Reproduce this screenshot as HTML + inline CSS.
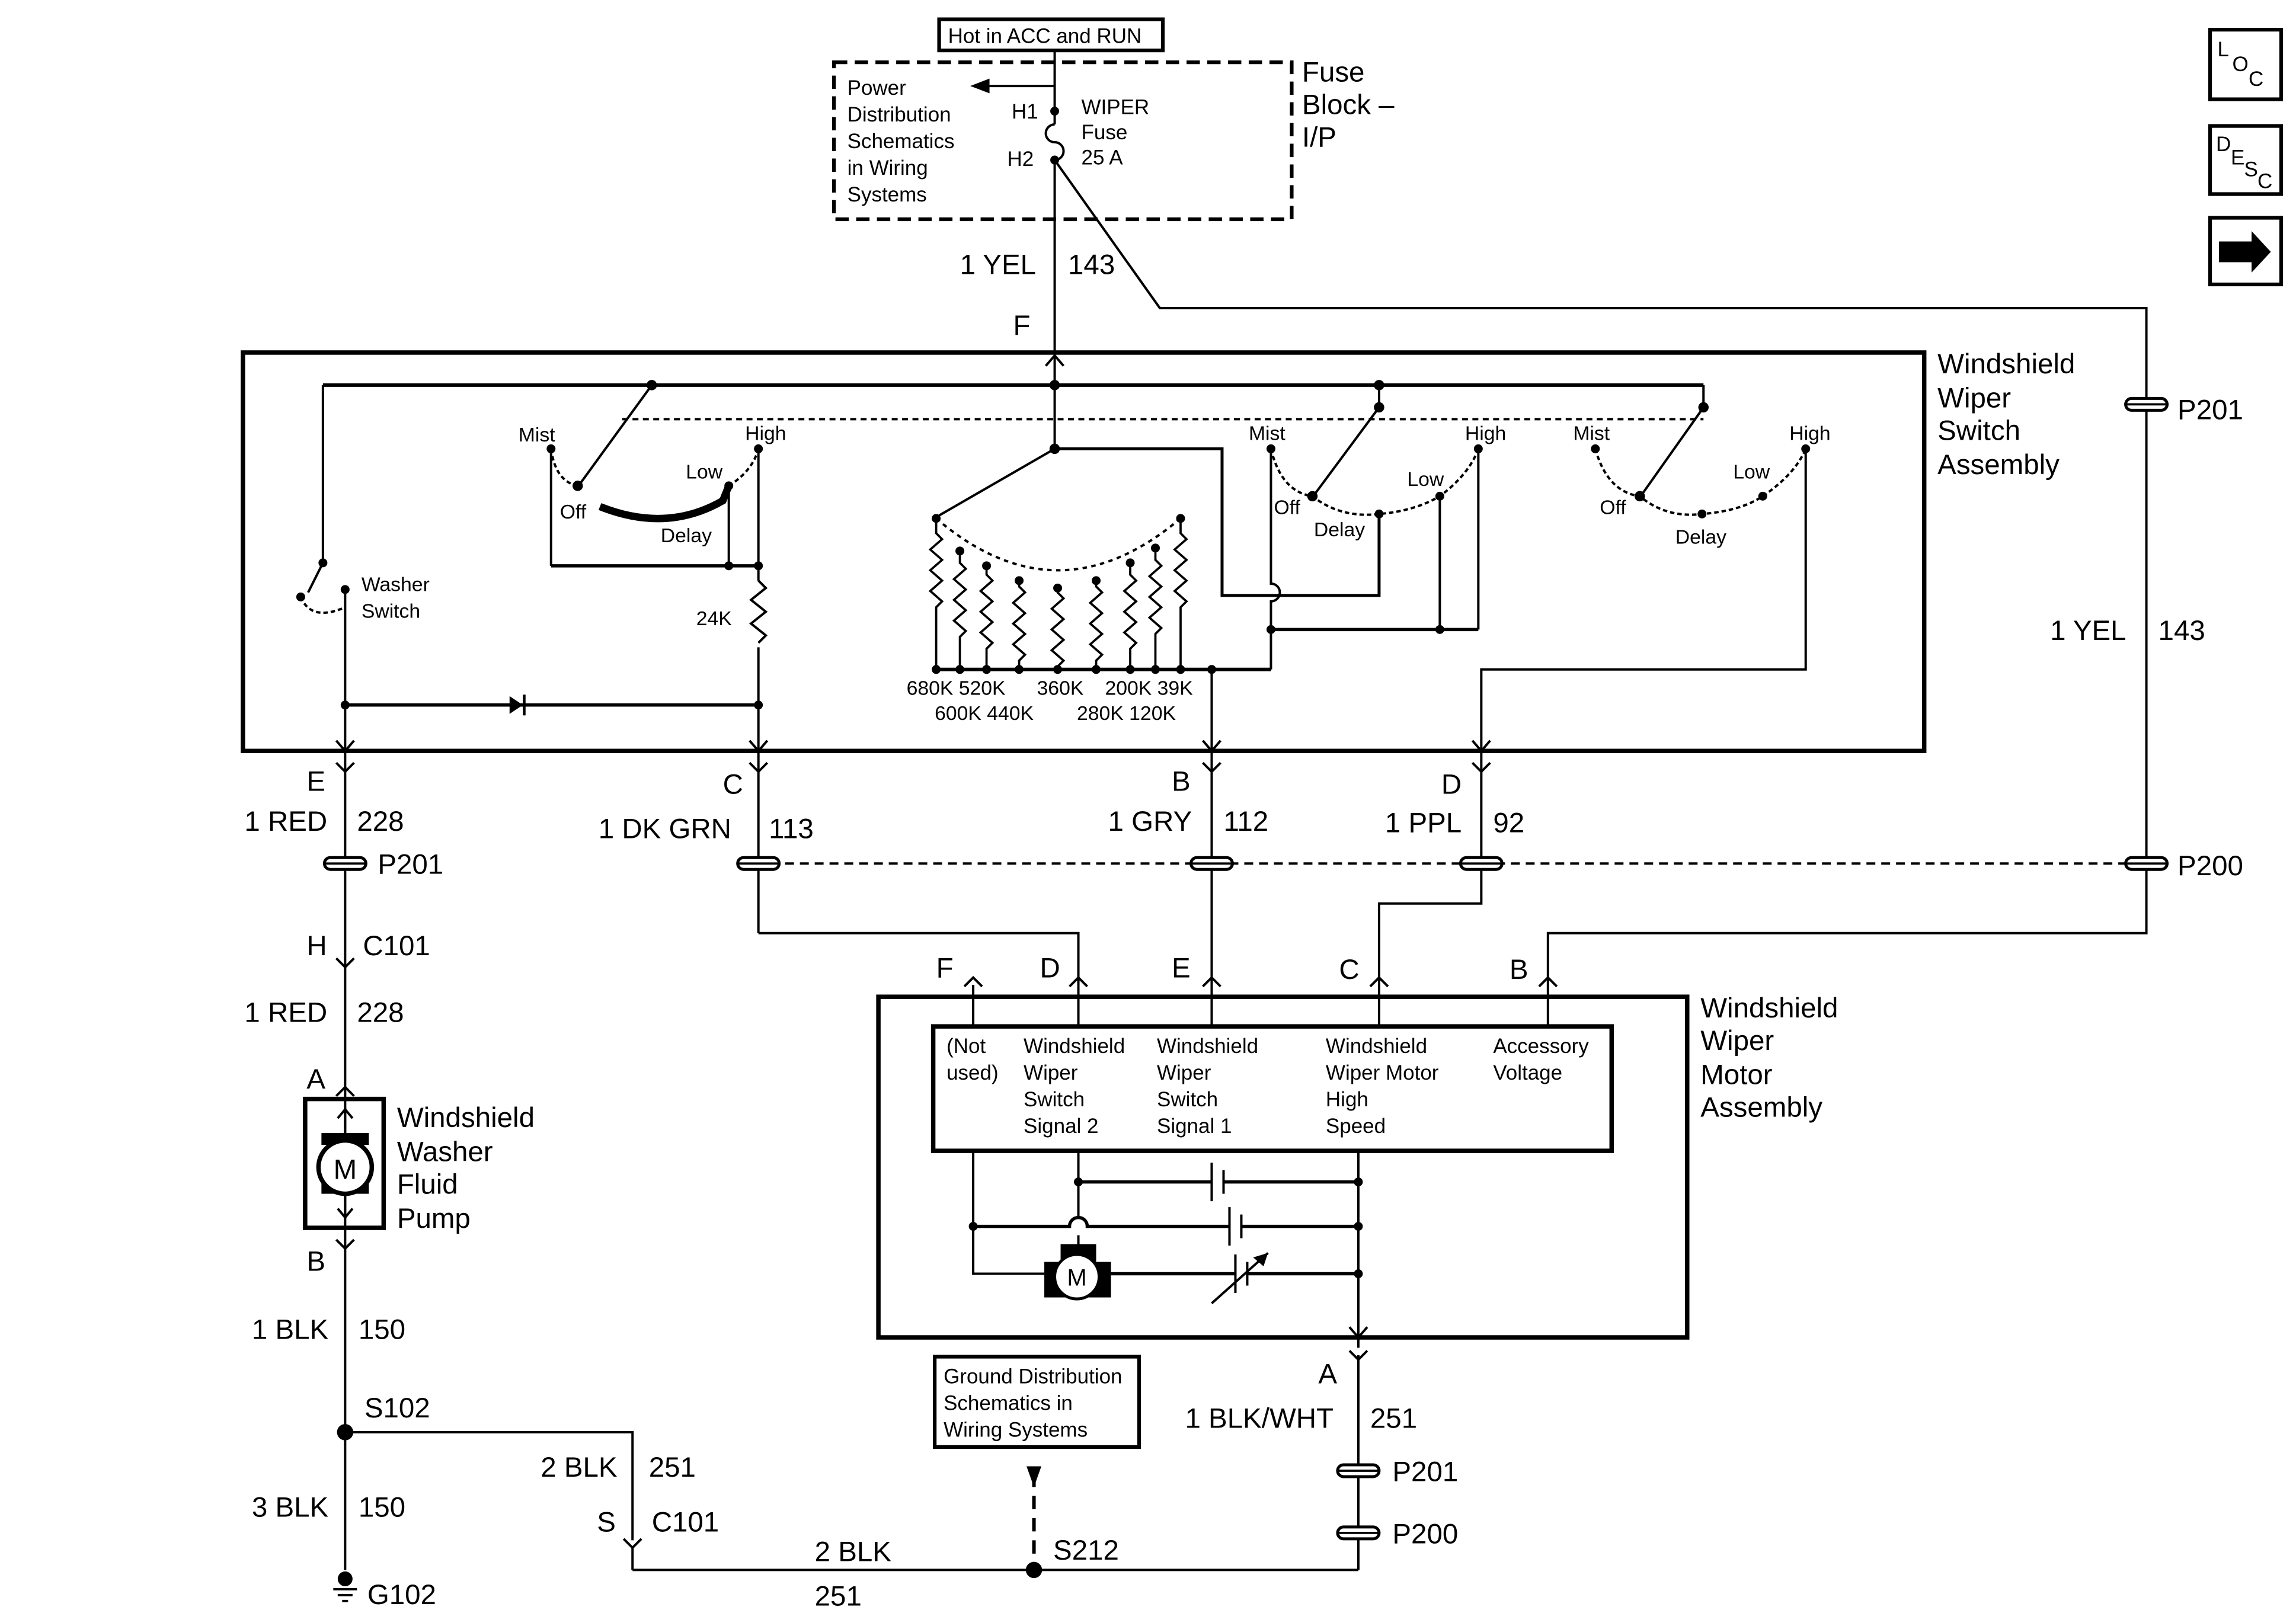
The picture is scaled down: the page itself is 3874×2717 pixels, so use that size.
<!DOCTYPE html>
<html><head><meta charset="utf-8"><style>
html,body{margin:0;padding:0;background:#fff}
svg{display:block}
text{font-family:"Liberation Sans",Arial,sans-serif;fill:#000}
.b{font-size:19px}
.s{font-size:14px}
.m{font-size:13.5px}
</style></head><body>
<svg width="3874" height="2717" viewBox="0 0 1550 1087" xmlns="http://www.w3.org/2000/svg">
<rect width="1550" height="1087" fill="#fff"/>
<g fill="none" stroke="#000" stroke-width="1.6">
<!-- top -->
<rect x="634" y="13" width="151" height="21" stroke-width="2.5"/>
<rect x="563" y="42" width="309" height="106" stroke-width="2.5" stroke-dasharray="9,5"/>
<line x1="712" y1="34" x2="712" y2="84"/>
<path d="M712 84 a6 6 0 0 0 0 12 a6 6 0 0 1 0 12"/>
<line x1="712" y1="108" x2="712" y2="238"/>
<line x1="712" y1="58" x2="668" y2="58"/>
<path d="M712 108 L783 208 L1449 208 L1449 630 L1045 630 L1045 665"/>
<!-- switch assembly box -->
<rect x="164" y="238" width="1135" height="269" stroke-width="3"/>
<line x1="218" y1="260" x2="1150" y2="260" stroke-width="2.4"/>
<line x1="1150" y1="260" x2="1150" y2="275"/>
<line x1="931" y1="260" x2="931" y2="275"/>
<line x1="420" y1="283" x2="1150" y2="283" stroke-dasharray="4,3"/>
<!-- washer switch -->
<line x1="218" y1="260" x2="218" y2="380"/>
<line x1="218" y1="380" x2="208" y2="400"/>
<path d="M203 403 Q210 420 233 410" stroke-dasharray="3,2"/>
<line x1="233" y1="398" x2="233" y2="507"/>
<line x1="233" y1="476" x2="512" y2="476" stroke-width="2.2"/>
<!-- switch1 -->
<line x1="440" y1="260" x2="392" y2="326"/>
<path d="M372 303 Q375 325 390 328" stroke-dasharray="3,2"/>
<path d="M492 328 Q508 318 512 303" stroke-dasharray="3,2"/>
<path d="M405 342 Q450 360 488 338 L492 328" stroke-width="5"/>
<line x1="372" y1="303" x2="372" y2="382"/>
<line x1="372" y1="382" x2="512" y2="382" stroke-width="2.2"/>
<line x1="492" y1="328" x2="492" y2="382"/>
<line x1="512" y1="303" x2="512" y2="392"/>
<path d="M512 392 l5 5 l-10 8 l10 8 l-10 8 l10 8 l-5 5"/>
<line x1="512" y1="437" x2="512" y2="507"/>
<!-- center -->
<line x1="712" y1="238" x2="712" y2="303"/>
<line x1="712" y1="303" x2="634" y2="348"/>
<path d="M712 303 L825 303 L825 402 L931 402 L931 347" stroke-width="2"/>
<path d="M632 350 Q714 420 797 350" stroke-dasharray="3,3"/>
<line x1="632" y1="452" x2="858" y2="452" stroke-width="2.4"/>
<line x1="818" y1="452" x2="818" y2="507"/>
<!-- switch2 -->
<line x1="931" y1="275" x2="888" y2="333"/>
<path d="M858 303 Q865 332 886 335 Q905 350 931 347 Q955 345 972 335 Q992 320 998 303" stroke-dasharray="3,2"/>
<path d="M858 303 L858 394 a6 6 0 0 1 0 12 L858 452"/>
<line x1="858" y1="425" x2="998" y2="425" stroke-width="2.2"/>
<line x1="972" y1="335" x2="972" y2="425"/>
<line x1="998" y1="303" x2="998" y2="425"/>
<!-- switch3 -->
<line x1="1150" y1="275" x2="1109" y2="333"/>
<path d="M1077 303 Q1085 332 1107 335 Q1125 350 1149 347 Q1175 345 1190 335 Q1212 320 1219 303" stroke-dasharray="3,2"/>
<path d="M1219 303 L1219 452 L1000 452 L1000 507"/>
<!-- below switch -->
<line x1="233" y1="507" x2="233" y2="1060"/>
<line x1="512" y1="507" x2="512" y2="630"/>
<path d="M512 630 L728 630 L728 665"/>
<line x1="818" y1="507" x2="818" y2="665"/>
<path d="M1000 507 L1000 610 L931 610 L931 665"/>
<line x1="500" y1="583" x2="1449" y2="583" stroke-dasharray="6,4"/>
<!-- pump -->
<rect x="206" y="742" width="53" height="87" stroke-width="3"/>
<!-- ground -->
<path d="M233 967 L427 967 L427 1040"/>
<line x1="427" y1="1045" x2="427" y2="1060"/>
<line x1="427" y1="1060" x2="917" y2="1060"/>
<rect x="631" y="916" width="138" height="61" stroke-width="2.5"/>
<line x1="698" y1="995" x2="698" y2="1060" stroke-width="2.4" stroke-dasharray="9,6"/>
<!-- motor assembly -->
<rect x="593" y="673" width="546" height="230" stroke-width="3"/>
<rect x="630" y="693" width="458" height="84" stroke-width="3"/>
<line x1="657" y1="665" x2="657" y2="693"/>
<line x1="728" y1="665" x2="728" y2="693"/>
<line x1="818" y1="665" x2="818" y2="693"/>
<line x1="931" y1="665" x2="931" y2="693"/>
<line x1="1045" y1="665" x2="1045" y2="693"/>
<path d="M657 777 L657 860 L705 860"/>
<line x1="728" y1="777" x2="728" y2="822"/>
<line x1="728" y1="834" x2="728" y2="846"/>
<line x1="917" y1="777" x2="917" y2="910"/>
<line x1="728" y1="798" x2="818" y2="798" stroke-width="2.2"/>
<line x1="826" y1="798" x2="917" y2="798" stroke-width="2.2"/>
<line x1="818" y1="785" x2="818" y2="811"/>
<line x1="826" y1="790" x2="826" y2="806"/>
<path d="M657 828 L722 828 a6 6 0 0 1 12 0 L830 828" stroke-width="2.2"/>
<line x1="838" y1="828" x2="917" y2="828" stroke-width="2.2"/>
<line x1="830" y1="815" x2="830" y2="841"/>
<line x1="838" y1="820" x2="838" y2="836"/>
<line x1="748" y1="860" x2="834" y2="860" stroke-width="2.2"/>
<line x1="842" y1="860" x2="917" y2="860" stroke-width="2.2"/>
<line x1="834" y1="847" x2="834" y2="873"/>
<line x1="842" y1="852" x2="842" y2="868"/>
<line x1="818" y1="880" x2="856" y2="846"/>
<line x1="917" y1="915" x2="917" y2="1060"/>
<!-- side icons -->
<rect x="1492" y="20" width="48" height="47" stroke-width="2.5"/>
<rect x="1492" y="85" width="48" height="46" stroke-width="2.5"/>
<rect x="1492" y="147" width="48" height="45" stroke-width="2.5"/>
</g>
<!-- resistors -->
<g fill="none" stroke="#000" stroke-width="1.5">
<path d="M632 350 L632 360 l4 4 l-8 7 l8 7 l-8 7 l8 7 l-8 7 l8 7 l-4 4 L632 452"/>
<path d="M648 372 L648 380 l4 4 l-8 7 l8 7 l-8 7 l8 7 l-8 7 l8 7 l-4 4 L648 452"/>
<path d="M666 382 L666 388 l4 4 l-8 7 l8 7 l-8 7 l8 7 l-8 7 l8 7 l-4 4 L666 452"/>
<path d="M688 392 L688 396 l4 4 l-8 7 l8 7 l-8 7 l8 7 l-8 7 l8 7 l-4 4 L688 452"/>
<path d="M714 397 L714 400 l4 4 l-8 7 l8 7 l-8 7 l8 7 l-8 7 l8 7 l-4 4 L714 452"/>
<path d="M740 392 L740 396 l4 4 l-8 7 l8 7 l-8 7 l8 7 l-8 7 l8 7 l-4 4 L740 452"/>
<path d="M763 380 L763 388 l4 4 l-8 7 l8 7 l-8 7 l8 7 l-8 7 l8 7 l-4 4 L763 452"/>
<path d="M780 370 L780 378 l4 4 l-8 7 l8 7 l-8 7 l8 7 l-8 7 l8 7 l-4 4 L780 452"/>
<path d="M797 350 L797 360 l4 4 l-8 7 l8 7 l-8 7 l8 7 l-8 7 l8 7 l-4 4 L797 452"/>
</g>
<!-- dots -->
<g fill="#000">
<circle cx="712" cy="75" r="3"/><circle cx="712" cy="108" r="3"/>
<circle cx="440" cy="260" r="3.5"/><circle cx="712" cy="260" r="3.5"/><circle cx="931" cy="260" r="3.5"/>
<circle cx="931" cy="275" r="3.5"/><circle cx="1150" cy="275" r="3.5"/><circle cx="712" cy="303" r="3.5"/>
<circle cx="218" cy="380" r="3"/><circle cx="203" cy="403" r="3"/><circle cx="233" cy="398" r="3"/>
<circle cx="372" cy="303" r="3"/><circle cx="512" cy="303" r="3"/><circle cx="390" cy="328" r="3.5"/><circle cx="492" cy="328" r="3"/>
<circle cx="492" cy="382" r="3"/><circle cx="512" cy="382" r="3"/><circle cx="233" cy="476" r="3"/><circle cx="512" cy="476" r="3"/>
<circle cx="632" cy="350" r="3"/><circle cx="648" cy="372" r="3"/><circle cx="666" cy="382" r="3"/><circle cx="688" cy="392" r="3"/><circle cx="714" cy="397" r="3"/><circle cx="740" cy="392" r="3"/><circle cx="763" cy="380" r="3"/><circle cx="780" cy="370" r="3"/><circle cx="797" cy="350" r="3"/>
<circle cx="632" cy="452" r="3"/><circle cx="648" cy="452" r="3"/><circle cx="666" cy="452" r="3"/><circle cx="688" cy="452" r="3"/><circle cx="714" cy="452" r="3"/><circle cx="740" cy="452" r="3"/><circle cx="763" cy="452" r="3"/><circle cx="780" cy="452" r="3"/><circle cx="797" cy="452" r="3"/><circle cx="818" cy="452" r="3"/>
<circle cx="858" cy="303" r="3"/><circle cx="886" cy="335" r="3.5"/><circle cx="931" cy="347" r="3"/><circle cx="972" cy="335" r="3"/><circle cx="998" cy="303" r="3"/><circle cx="858" cy="425" r="3"/><circle cx="972" cy="425" r="3"/>
<circle cx="1077" cy="303" r="3"/><circle cx="1107" cy="335" r="3.5"/><circle cx="1149" cy="347" r="3"/><circle cx="1190" cy="335" r="3"/><circle cx="1219" cy="303" r="3"/>
<circle cx="233" cy="967" r="5.5"/><circle cx="698" cy="1060" r="5.5"/><circle cx="233" cy="1066" r="5"/>
<circle cx="728" cy="798" r="3"/><circle cx="917" cy="798" r="3"/><circle cx="657" cy="828" r="3"/><circle cx="917" cy="828" r="3"/><circle cx="917" cy="860" r="3"/>
<polygon points="655,58 668,53 668,63"/>
<polygon points="344,470 353,476 344,482"/><rect x="353" y="469" width="1.8" height="14"/>
<polygon points="856,846 846,849 853,855"/>
<polygon points="698,1004 693,990 703,990"/>
<polygon points="1498,163 1520,163 1520,156 1533,170 1520,184 1520,177 1498,177"/>
</g>
<!-- arrowheads / connectors -->
<g fill="none" stroke="#000" stroke-width="1.6">
<path d="M706 247 L712 240 L718 247"/>
<path d="M227 500 L233 507 L239 500 M227 515 L233 521 L239 515"/>
<path d="M506 500 L512 507 L518 500 M506 515 L512 521 L518 515"/>
<path d="M812 500 L818 507 L824 500 M812 515 L818 521 L824 515"/>
<path d="M994 500 L1000 507 L1006 500 M994 515 L1000 521 L1006 515"/>
<path d="M227 647 L233 653 L239 647 M227 740 L233 734 L239 740 M227 837 L233 843 L239 837"/>
<path d="M651 666 L657 660 L663 666 M722 666 L728 660 L734 666 M812 666 L818 660 L824 666 M925 666 L931 660 L937 666 M1039 666 L1045 660 L1051 666"/>
<path d="M911 896 L917 903 L923 896 M911 912 L917 918 L923 912"/>
<path d="M421 1039 L427 1045 L433 1039"/>
<line x1="233" y1="748" x2="233" y2="823"/>
<path d="M228 755 L233 749 L238 755 M228 816 L233 822 L238 816"/>
<path d="M225 1073 L241 1073 M228 1077 L238 1077 M231 1081 L235 1081"/>
</g>
<!-- splice P201/P200 symbols -->
<g fill="#fff" stroke="#000" stroke-width="2">
<rect x="219" y="579" width="28" height="8" rx="4"/>
<rect x="498" y="579" width="28" height="8" rx="4"/>
<rect x="804" y="579" width="28" height="8" rx="4"/>
<rect x="986" y="579" width="28" height="8" rx="4"/>
<rect x="1435" y="579" width="28" height="8" rx="4"/>
<rect x="1435" y="269" width="28" height="8" rx="4"/>
<rect x="903" y="989" width="28" height="8" rx="4"/>
<rect x="903" y="1031" width="28" height="8" rx="4"/>
</g>
<g stroke="#000" stroke-width="1.5"><line x1="219" y1="583" x2="247" y2="583"/><line x1="498" y1="583" x2="526" y2="583"/><line x1="804" y1="583" x2="832" y2="583"/><line x1="986" y1="583" x2="1014" y2="583"/><line x1="1435" y1="583" x2="1463" y2="583"/><line x1="1435" y1="273" x2="1463" y2="273"/><line x1="903" y1="993" x2="931" y2="993"/><line x1="903" y1="1035" x2="931" y2="1035"/></g>
<!-- motors -->
<rect x="217" y="765" width="32" height="8" fill="#000"/><rect x="217" y="798" width="32" height="8" fill="#000"/>
<circle cx="233" cy="788" r="18" fill="#fff" stroke="#000" stroke-width="3"/>
<text x="233" y="796" class="b" text-anchor="middle">M</text>
<rect x="716" y="840" width="24" height="12" fill="#000"/><rect x="705" y="852" width="45" height="24" fill="#000"/>
<circle cx="727" cy="862" r="15" fill="#fff" stroke="#000" stroke-width="2"/>
<text x="727" y="868" font-size="16" text-anchor="middle">M</text>
<!-- text -->
<text x="640" y="29" class="s">Hot in ACC and RUN</text>
<text class="s"><tspan x="572" y="64">Power</tspan><tspan x="572" y="82">Distribution</tspan><tspan x="572" y="100">Schematics</tspan><tspan x="572" y="118">in Wiring</tspan><tspan x="572" y="136">Systems</tspan></text>
<text class="s" x="683" y="80">H1</text><text class="s" x="680" y="112">H2</text>
<text class="s"><tspan x="730" y="77">WIPER</tspan><tspan x="730" y="94">Fuse</tspan><tspan x="730" y="111">25 A</tspan></text>
<text class="b"><tspan x="879" y="55">Fuse</tspan><tspan x="879" y="77">Block –</tspan><tspan x="879" y="99">I/P</tspan></text>
<text class="b" x="648" y="185">1 YEL</text><text class="b" x="721" y="185">143</text>
<text class="b" x="684" y="226">F</text>
<text class="b"><tspan x="1308" y="252">Windshield</tspan><tspan x="1308" y="275">Wiper</tspan><tspan x="1308" y="297">Switch</tspan><tspan x="1308" y="320">Assembly</tspan></text>
<text class="m" x="350" y="298">Mist</text><text class="m" x="503" y="297">High</text><text class="m" x="463" y="323">Low</text><text class="m" x="378" y="350">Off</text><text class="m" x="446" y="366">Delay</text>
<text class="m" x="843" y="297">Mist</text><text class="m" x="989" y="297">High</text><text class="m" x="950" y="328">Low</text><text class="m" x="860" y="347">Off</text><text class="m" x="887" y="362">Delay</text>
<text class="m" x="1062" y="297">Mist</text><text class="m" x="1208" y="297">High</text><text class="m" x="1170" y="323">Low</text><text class="m" x="1080" y="347">Off</text><text class="m" x="1131" y="367">Delay</text>
<text class="m"><tspan x="244" y="399">Washer</tspan><tspan x="244" y="417">Switch</tspan></text>
<text class="m" x="470" y="422">24K</text>
<text class="m" x="612" y="469">680K 520K</text><text class="m" x="700" y="469">360K</text><text class="m" x="746" y="469">200K 39K</text>
<text class="m" x="631" y="486">600K 440K</text><text class="m" x="727" y="486">280K 120K</text>
<text class="b" x="1384" y="432">1 YEL</text><text class="b" x="1457" y="432">143</text>
<text class="b" x="1470" y="283">P201</text><text class="b" x="1470" y="591">P200</text>
<text class="b" x="207" y="534">E</text><text class="b" x="488" y="536">C</text><text class="b" x="791" y="534">B</text><text class="b" x="973" y="536">D</text>
<text class="b" x="165" y="561">1 RED</text><text class="b" x="241" y="561">228</text>
<text class="b" x="404" y="566">1 DK GRN</text><text class="b" x="519" y="566">113</text>
<text class="b" x="748" y="561">1 GRY</text><text class="b" x="826" y="561">112</text>
<text class="b" x="935" y="562">1 PPL</text><text class="b" x="1008" y="562">92</text>
<text class="b" x="255" y="590">P201</text>
<text class="b" x="207" y="645">H</text><text class="b" x="245" y="645">C101</text>
<text class="b" x="165" y="690">1 RED</text><text class="b" x="241" y="690">228</text>
<text class="b" x="207" y="735">A</text>
<text class="b"><tspan x="268" y="761">Windshield</tspan><tspan x="268" y="784">Washer</tspan><tspan x="268" y="806">Fluid</tspan><tspan x="268" y="829">Pump</tspan></text>
<text class="b" x="207" y="858">B</text>
<text class="b" x="170" y="904">1 BLK</text><text class="b" x="242" y="904">150</text>
<text class="b" x="246" y="957">S102</text>
<text class="b" x="365" y="997">2 BLK</text><text class="b" x="438" y="997">251</text>
<text class="b" x="170" y="1024">3 BLK</text><text class="b" x="242" y="1024">150</text>
<text class="b" x="403" y="1034">S</text><text class="b" x="440" y="1034">C101</text>
<text class="b" x="248" y="1083">G102</text>
<text class="b" x="550" y="1054">2 BLK</text><text class="b" x="550" y="1084">251</text>
<text class="b" x="711" y="1053">S212</text>
<text class="s"><tspan x="637" y="934">Ground Distribution</tspan><tspan x="637" y="952">Schematics in</tspan><tspan x="637" y="970">Wiring Systems</tspan></text>
<text class="b" x="632" y="660">F</text><text class="b" x="702" y="660">D</text><text class="b" x="791" y="660">E</text><text class="b" x="904" y="661">C</text><text class="b" x="1019" y="661">B</text>
<text class="b"><tspan x="1148" y="687">Windshield</tspan><tspan x="1148" y="709">Wiper</tspan><tspan x="1148" y="732">Motor</tspan><tspan x="1148" y="754">Assembly</tspan></text>
<text class="s"><tspan x="639" y="711">(Not</tspan><tspan x="639" y="729">used)</tspan></text>
<text class="s"><tspan x="691" y="711">Windshield</tspan><tspan x="691" y="729">Wiper</tspan><tspan x="691" y="747">Switch</tspan><tspan x="691" y="765">Signal 2</tspan></text>
<text class="s"><tspan x="781" y="711">Windshield</tspan><tspan x="781" y="729">Wiper</tspan><tspan x="781" y="747">Switch</tspan><tspan x="781" y="765">Signal 1</tspan></text>
<text class="s"><tspan x="895" y="711">Windshield</tspan><tspan x="895" y="729">Wiper Motor</tspan><tspan x="895" y="747">High</tspan><tspan x="895" y="765">Speed</tspan></text>
<text class="s"><tspan x="1008" y="711">Accessory</tspan><tspan x="1008" y="729">Voltage</tspan></text>
<text class="b" x="890" y="934">A</text>
<text class="b" x="800" y="964">1 BLK/WHT</text><text class="b" x="925" y="964">251</text>
<text class="b" x="940" y="1000">P201</text><text class="b" x="940" y="1042">P200</text>
<text font-size="14" x="1497" y="38">L</text><text font-size="14" x="1507" y="48">O</text><text font-size="14" x="1518" y="58">C</text>
<text font-size="14" x="1496" y="102">D</text><text font-size="14" x="1506" y="111">E</text><text font-size="14" x="1515" y="119">S</text><text font-size="14" x="1524" y="127">C</text>
</svg>
</body></html>
